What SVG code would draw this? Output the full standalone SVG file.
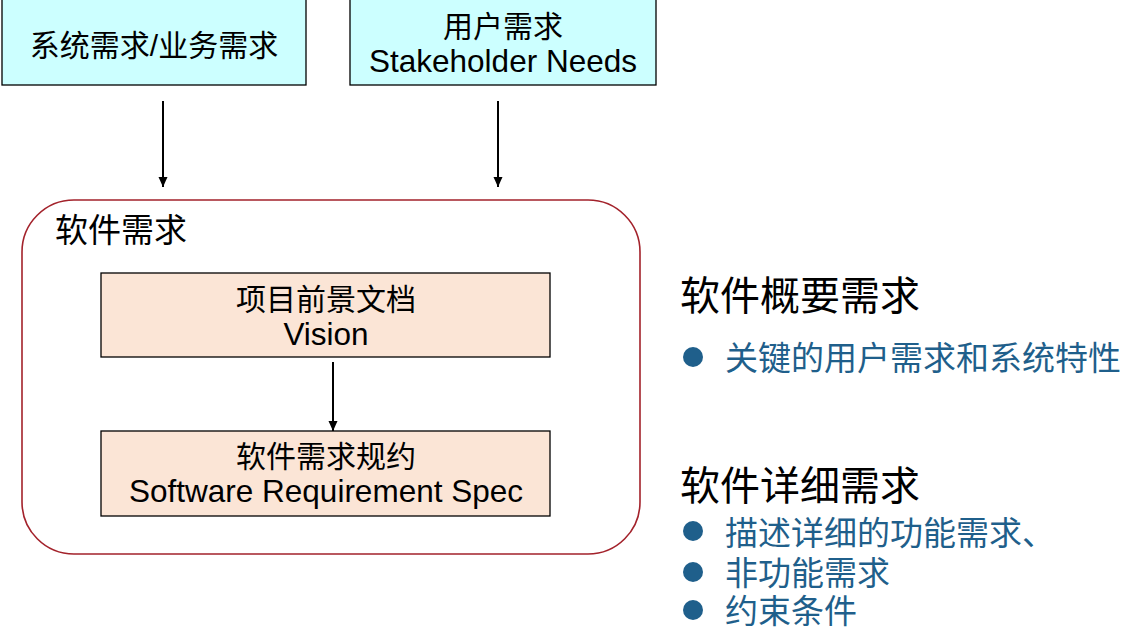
<svg xmlns="http://www.w3.org/2000/svg" width="1144" height="640" viewBox="0 0 1144 640">
<defs>
<style>
text{font-family:"Liberation Sans","Noto Sans CJK SC",sans-serif;fill:#000}
.top{fill:#CCFFFF;stroke:#000;stroke-width:1.3}
.doc{fill:#FBE5D6;stroke:#000;stroke-width:1.3}
.t30{font-size:30px;text-anchor:middle}
.lat{font-size:31.5px;text-anchor:middle}
.head{font-size:40px}
.blt{font-size:33px;fill:#1F5F8B}
.dot{fill:#1F5F8B}
.conn{stroke:#000;stroke-width:2;fill:none;marker-end:url(#ah)}
</style>
<marker id="ah" markerWidth="10" markerHeight="12" refX="10" refY="5" orient="auto" markerUnits="userSpaceOnUse">
<path d="M0,0.5 L10,5 L0,9.5 Z" fill="#000"/>
</marker>
</defs>
<rect width="1144" height="640" fill="#fff"/>
<g id="sys">
<rect class="top" x="2" y="-1" width="304" height="86"/>
<text class="t30" x="154" y="56">系统需求/业务需求</text>
</g>
<g id="user">
<rect class="top" x="350" y="-1" width="306" height="86"/>
<text class="t30" x="503" y="37">用户需求</text>
<text class="lat" x="503" y="72">Stakeholder Needs</text>
</g>
<g id="soft">
<rect x="22" y="200" width="618" height="354" rx="52" ry="52" fill="none" stroke="#A3222B" stroke-width="1.6"/>
<text x="55" y="242" font-size="33">软件需求</text>
</g>
<g id="vision">
<rect class="doc" x="101" y="273" width="449" height="84"/>
<text class="t30" x="326" y="310">项目前景文档</text>
<text class="lat" x="326" y="345">Vision</text>
</g>
<g id="srs">
<rect class="doc" x="101" y="431" width="449" height="85"/>
<text class="t30" x="326" y="467">软件需求规约</text>
<text class="lat" x="326" y="502">Software Requirement Spec</text>
</g>
<g id="summary">
<text class="head" x="680" y="310">软件概要需求</text>
<circle class="dot" cx="693" cy="357" r="10"/>
<text class="blt" x="725" y="370">关键的用户需求和系统特性</text>
</g>
<g id="detail">
<text class="head" x="680" y="500">软件详细需求</text>
<circle class="dot" cx="693" cy="531" r="10"/>
<text class="blt" x="725" y="545">描述详细的功能需求、</text>
<circle class="dot" cx="693" cy="572" r="10"/>
<text class="blt" x="725" y="585">非功能需求</text>
<circle class="dot" cx="693" cy="610" r="10"/>
<text class="blt" x="725" y="623">约束条件</text>
</g>
<g id="connectors">
<line class="conn" x1="163" y1="101" x2="163" y2="187"/>
<line class="conn" x1="498" y1="101" x2="498" y2="187"/>
<line class="conn" x1="333" y1="362" x2="333" y2="431"/>
</g>
</svg>
